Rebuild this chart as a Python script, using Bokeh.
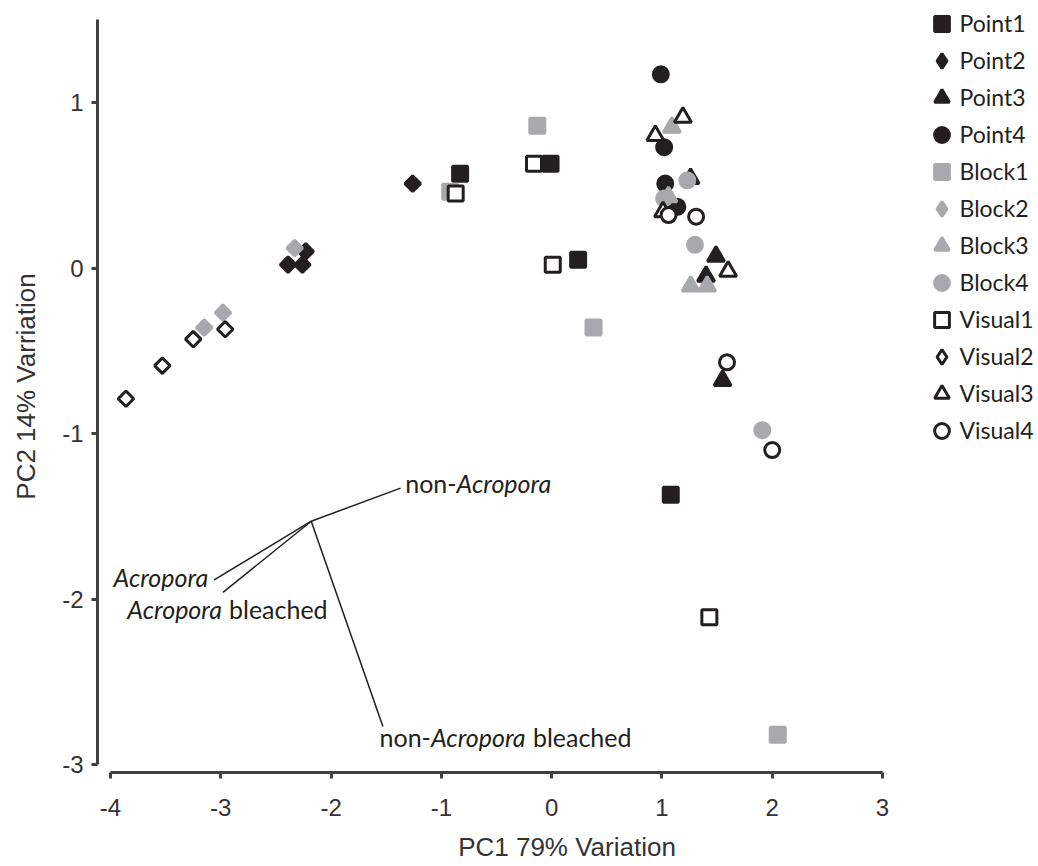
import math
from bokeh.plotting import figure
from bokeh.models import Legend, LegendItem, FixedTicker, Range1d
from bokeh.embed import file_html
from bokeh.resources import INLINE
from bokeh.core.properties import value

# ---------------- data ----------------
series_names = ["Point1", "Point2", "Point3", "Point4",
                "Block1", "Block2", "Block3", "Block4",
                "Visual1", "Visual2", "Visual3", "Visual4"]

point1_x = [-0.83, -0.01, 0.24, 1.08]
point1_y = [0.57, 0.63, 0.05, -1.37]
point2_x = [-1.26, -2.39, -2.26, -2.23]
point2_y = [0.51, 0.02, 0.02, 0.10]
point3_x = [1.26, 1.49, 1.40, 1.55]
point3_y = [0.54, 0.07, -0.05, -0.68]
point4_x = [0.99, 1.02, 1.03, 1.14]
point4_y = [1.17, 0.73, 0.51, 0.37]

block1_x = [-0.13, -0.92, 0.38, 2.05]
block1_y = [0.86, 0.46, -0.36, -2.82]
block2_x = [-2.33, -2.98, -3.15]
block2_y = [0.12, -0.27, -0.36]
block3_x = [1.09, 1.06, 1.26, 1.41]
block3_y = [0.85, 0.43, -0.11, -0.11]
block4_x = [1.23, 1.02, 1.30, 1.91]
block4_y = [0.53, 0.42, 0.14, -0.98]

visual1_x = [-0.16, -0.87, 0.01, 1.43]
visual1_y = [0.63, 0.45, 0.02, -2.11]
visual2_x = [-3.86, -3.53, -3.25, -2.96]
visual2_y = [-0.79, -0.59, -0.43, -0.37]
visual3_x = [1.19, 0.94, 1.01, 1.60]
visual3_y = [0.91, 0.80, 0.34, -0.02]
visual4_x = [1.06, 1.31, 1.59, 2.00]
visual4_y = [0.32, 0.31, -0.57, -1.10]

# loading vectors (common origin, end points)
vector_names = ["non-Acropora", "Acropora", "Acropora bleached", "non-Acropora bleached"]
vector_origin_x = -2.18
vector_origin_y = -1.53
vector_end_x = [-1.37, -3.06, -2.98, -1.53]
vector_end_y = [-1.33, -1.885, -1.96, -2.77]

x_ticks = [-4, -3, -2, -1, 0, 1, 2, 3]
y_ticks = [-3, -2, -1, 0, 1]
x_title = "PC1 79% Variation"
y_title = "PC2 14% Varriation"

series_x = [point1_x, point2_x, point3_x, point4_x, block1_x, block2_x, block3_x, block4_x,
            visual1_x, visual2_x, visual3_x, visual4_x]
series_y = [point1_y, point2_y, point3_y, point4_y, block1_y, block2_y, block3_y, block4_y,
            visual1_y, visual2_y, visual3_y, visual4_y]

# ---------------- style ----------------
BLACK = "#231f20"
GRAY = "#a7a9ac"
WHITE = "#ffffff"
AXIS = "#404040"
TXT = "#333333"

shape_style = {
    "square": dict(marker="square", size=15, angle=0.0),
    "diamond": dict(marker="square", size=11, angle=math.pi / 4),
    "triangle": dict(marker="triangle", size=17, angle=0.0),
    "circle": dict(marker="circle", size=15, angle=0.0),
}
shapes = ["square", "diamond", "triangle", "circle"] * 3
fills = [BLACK] * 4 + [GRAY] * 4 + [WHITE] * 4
lines = [BLACK] * 4 + [GRAY] * 4 + [BLACK] * 4

# frame: left 97 .. right 1036 px, top 0 .. bottom 772 px
p = figure(width=1036, height=864,
           x_range=Range1d(-4.1179, 4.3963), y_range=Range1d(-3.0483, 1.6163),
           output_backend="svg", toolbar_location=None,
           min_border_left=97, min_border_right=0,
           min_border_top=0, min_border_bottom=92)
p.outline_line_color = None
p.xgrid.visible = False
p.ygrid.visible = False
p.background_fill_color = WHITE

for ax in (p.xaxis[0], p.yaxis[0]):
    ax.axis_line_width = 3
    ax.axis_line_color = AXIS
    ax.major_tick_line_width = 3
    ax.major_tick_line_color = AXIS
    ax.major_tick_out = 6
    ax.major_tick_in = 0
    ax.minor_tick_out = 0
    ax.minor_tick_in = 0
    ax.major_label_text_font = "Liberation Sans"
    ax.major_label_text_font_size = "24px"
    ax.major_label_text_color = TXT
    ax.axis_label_text_font = "Liberation Sans"
    ax.axis_label_text_font_size = "26px"
    ax.axis_label_text_font_style = "normal"
    ax.axis_label_text_color = TXT

p.xaxis.ticker = FixedTicker(ticks=x_ticks)
p.yaxis.ticker = FixedTicker(ticks=y_ticks)
p.xaxis.major_label_overrides = {t: str(t) for t in x_ticks}
p.yaxis.major_label_overrides = {t: str(t) for t in y_ticks}
p.xaxis.bounds = (x_ticks[0], x_ticks[-1])
p.yaxis.bounds = (y_ticks[0], 1.5)
p.xaxis.axis_label = x_title
p.yaxis.axis_label = y_title
p.xaxis.major_label_standoff = 20
p.yaxis.major_label_standoff = 8
p.xaxis.axis_label_standoff = 13
p.yaxis.axis_label_standoff = 18

# loading vectors
p.segment(x0=[vector_origin_x] * len(vector_end_x), y0=[vector_origin_y] * len(vector_end_y),
          x1=vector_end_x, y1=vector_end_y, line_color=BLACK, line_width=1.5)

# vector labels split into plain / italic parts: (vector, text, style, align, dx, dy)
label_parts = [
    (0, "non-", "normal", "right", 56, -5),
    (0, "Acropora", "italic", "left", 56, -5),
    (1, "Acropora", "italic", "right", -6, -3),
    (2, "Acropora", "italic", "right", -1, 17),
    (2, "bleached", "normal", "left", 6, 17),
    (3, "non-", "normal", "right", 48, 11),
    (3, "Acropora", "italic", "left", 48, 11),
    (3, "bleached", "normal", "left", 150, 11),
]
for vi, txt, style, align, dx, dy in label_parts:
    p.text(x=[vector_end_x[vi]], y=[vector_end_y[vi]], text=[txt],
           text_font=value("Lato"), text_font_size="25px", text_font_style=style,
           text_color=BLACK, text_align=align, text_baseline="middle",
           x_offset=dx, y_offset=dy)

legend_items = []
for name, xs, ys, shp, fc, lc in zip(series_names, series_x, series_y, shapes, fills, lines):
    st = shape_style[shp]
    r = p.scatter(x=xs, y=ys, marker=st["marker"], size=st["size"], angle=st["angle"],
                  fill_color=fc, line_color=lc, line_width=3)
    if shp == "diamond":
        lr = p.scatter(x=xs, y=ys, marker="diamond", size=st["size"],
                       fill_color=fc, line_color=lc, line_width=3)
        lr.visible = False
        legend_items.append(LegendItem(label=name, renderers=[lr]))
    else:
        legend_items.append(LegendItem(label=name, renderers=[r]))

legend = Legend(items=legend_items, location=(825.5, 323.5),
                glyph_width=37, glyph_height=37, label_standoff=-3, spacing=0,
                padding=0, margin=0, border_line_color=None, background_fill_alpha=0,
                label_text_font="Lato", label_text_font_size="23px",
                label_text_color=BLACK, label_height=37)
p.add_layout(legend, "center")

open("out.html", "w").write(file_html(p, INLINE))
